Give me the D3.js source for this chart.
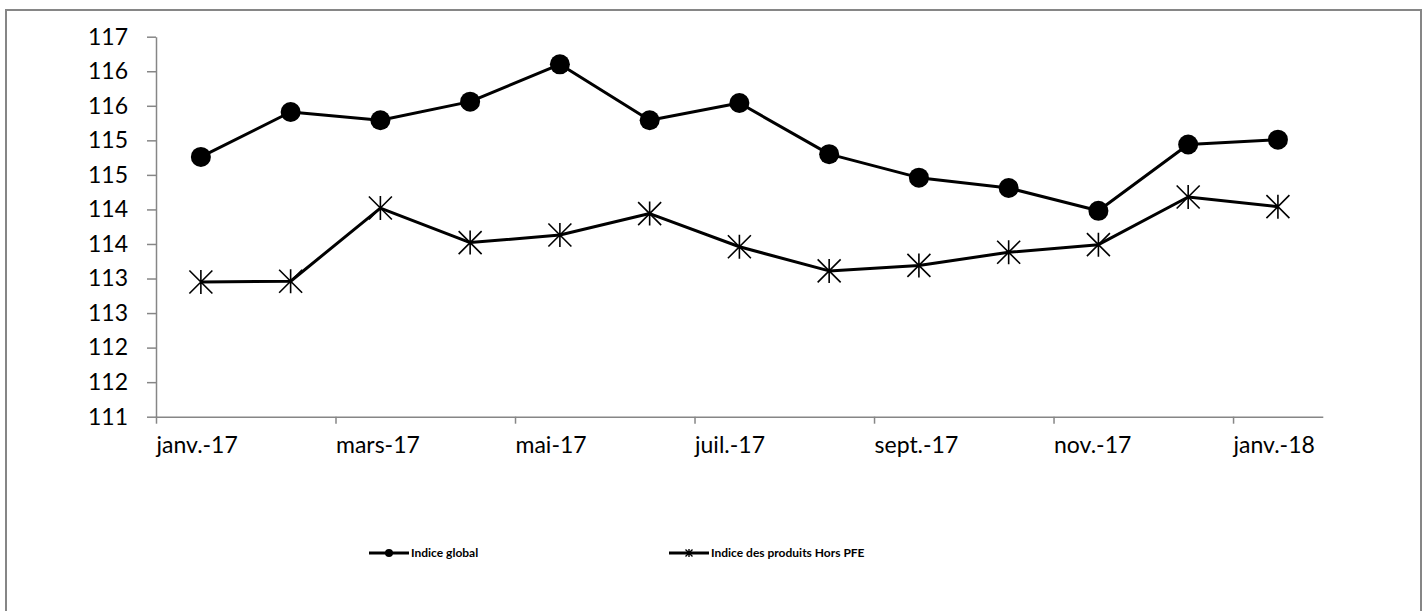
<!DOCTYPE html>
<html>
<head>
<meta charset="utf-8">
<script src="https://cdn.jsdelivr.net/npm/d3@7"></script>
<style>
  html, body { margin: 0; padding: 0; background: #fff; }
  svg { display: block; }
</style>
</head>
<body>
<svg id="chart" width="1423" height="611"></svg>
<script>
const months = ["janv.-17","févr.-17","mars-17","avr.-17","mai-17","juin-17","juil.-17","août-17","sept.-17","oct.-17","nov.-17","déc.-17","janv.-18"];
const indiceGlobal = [114.76, 115.41, 115.29, 115.56, 116.10, 115.29, 115.54, 114.80, 114.46, 114.31, 113.98, 114.94, 115.01];
const indiceHorsPFE = [112.95, 112.96, 114.02, 113.52, 113.63, 113.94, 113.46, 113.11, 113.19, 113.38, 113.49, 114.18, 114.04];
const yTickValues = [111, 111.5, 112, 112.5, 113, 113.5, 114, 114.5, 115, 115.5, 116, 116.5];
const yTickLabels = ["111","112","112","113","113","114","114","115","115","116","116","117"];
const xTickIndex = [0, 2, 4, 6, 8, 10, 12];
const seriesNames = ["Indice global", "Indice des produits Hors PFE"];

(function () {
const svg = d3.select("#chart");
const font = "Lato, 'Open Sans', sans-serif";
const axisColor = "#868686";

// frame
svg.append("rect").attr("x", 6).attr("y", 10).attr("width", 1415).attr("height", 610)
  .attr("fill", "none").attr("stroke", axisColor).attr("stroke-width", 2);

const pLeft = 156, pRight = 1322.8, pTop = 36.7, pBottom = 416.7;
const x = d3.scaleLinear().domain([0, months.length]).range([pLeft, pRight]);
const y = d3.scaleLinear().domain([111, 116.5]).range([pBottom, pTop]);

// y axis
const yAxis = svg.append("g").attr("transform", `translate(${pLeft},0)`)
  .call(d3.axisLeft(y).tickValues(yTickValues).tickFormat((d, i) => yTickLabels[i]).tickSize(9).tickPadding(19).tickSizeOuter(0));
yAxis.select(".domain").attr("stroke", axisColor).attr("stroke-width", 1.5);
yAxis.selectAll(".tick line").attr("stroke", axisColor).attr("stroke-width", 1.5);
yAxis.selectAll("text").attr("font-family", font).attr("font-size", 23).attr("fill", "#000");

// x axis
const xAxis = svg.append("g").attr("transform", `translate(0,${pBottom})`)
  .call(d3.axisBottom(x).tickValues(xTickIndex).tickFormat(i => months[i]).tickSize(7).tickPadding(10).tickSizeOuter(0));
xAxis.select(".domain").attr("stroke", axisColor).attr("stroke-width", 1.5);
xAxis.selectAll(".tick line").attr("stroke", axisColor).attr("stroke-width", 1.5);
xAxis.selectAll("text").attr("font-family", font).attr("font-size", 23).attr("fill", "#000")
  .attr("text-anchor", "start").attr("dy", "0.85em");

const cx = i => x(i + 0.5);
const line = d3.line().x((d, i) => cx(i)).y(d => y(d));

function starPath(s, v) {
  return `M${-s},${-s}L${s},${s}M${-s},${s}L${s},${-s}M0,${-v}L0,${v}`;
}

// hors PFE series
svg.append("path").datum(indiceHorsPFE).attr("d", line)
  .attr("fill", "none").attr("stroke", "#000").attr("stroke-width", 3).attr("stroke-linejoin", "round");
svg.selectAll(".star").data(indiceHorsPFE).enter().append("path")
  .attr("transform", (d, i) => `translate(${cx(i)},${y(d)})`)
  .attr("d", starPath(11.5, 12)).attr("stroke", "#000").attr("stroke-width", 1.6).attr("fill", "none");

// global series
svg.append("path").datum(indiceGlobal).attr("d", line)
  .attr("fill", "none").attr("stroke", "#000").attr("stroke-width", 3).attr("stroke-linejoin", "round");
svg.selectAll(".dot").data(indiceGlobal).enter().append("circle")
  .attr("cx", (d, i) => cx(i)).attr("cy", d => y(d)).attr("r", 10).attr("fill", "#000");

// legend
const legY = 553;
const leg = [
  { name: seriesNames[0], x0: 369, marker: "circle" },
  { name: seriesNames[1], x0: 669, marker: "star" }
];
leg.forEach(l => {
  const g = svg.append("g");
  g.append("line").attr("x1", l.x0).attr("x2", l.x0 + 40).attr("y1", legY).attr("y2", legY)
    .attr("stroke", "#000").attr("stroke-width", 3);
  if (l.marker === "circle") {
    g.append("circle").attr("cx", l.x0 + 20).attr("cy", legY).attr("r", 4).attr("fill", "#000");
  } else {
    g.append("path").attr("transform", `translate(${l.x0 + 20},${legY})`).attr("d", starPath(3.5, 4))
      .attr("stroke", "#000").attr("stroke-width", 1.4).attr("fill", "none");
  }
  g.append("text").attr("x", l.x0 + 42).attr("y", legY).attr("dy", "0.35em")
    .attr("font-family", font).attr("font-weight", "bold").attr("font-size", 12).attr("fill", "#000")
    .text(l.name);
});
})();
</script>
</body>
</html>
